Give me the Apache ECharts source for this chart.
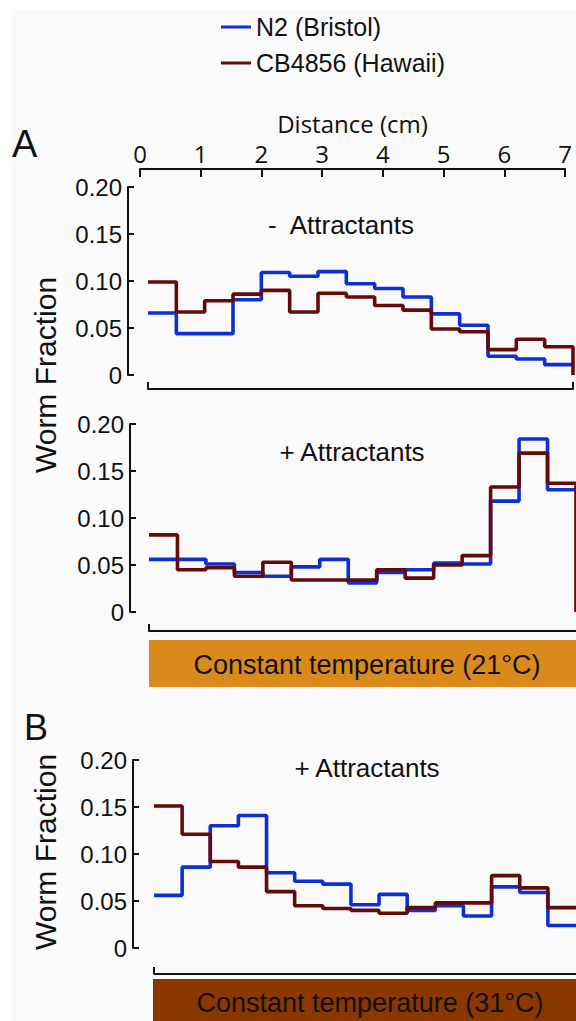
<!DOCTYPE html>
<html><head><meta charset="utf-8">
<script src="https://cdn.jsdelivr.net/npm/echarts@6/dist/echarts.min.js"></script>
<style>html,body{margin:0;padding:0;background:#fff}#c{width:576px;height:1021px}</style>
</head><body><div id="c"></div>
<script>
// ---- data ----
const seriesNames = ['N2 (Bristol)', 'CB4856 (Hawaii)'];
const distanceTicks = [0, 1, 2, 3, 4, 5, 6, 7];
const yTickValues = [0, 0.05, 0.10, 0.15, 0.20];
const binCount = 15;
// Panel A, no attractants
const n2NoAttr = [0.066, 0.044, 0.044, 0.080, 0.109, 0.105, 0.110, 0.097, 0.092, 0.083, 0.065, 0.053, 0.020, 0.017, 0.011];
const cbNoAttr = [0.099, 0.067, 0.079, 0.086, 0.090, 0.067, 0.087, 0.083, 0.074, 0.069, 0.049, 0.046, 0.027, 0.038, 0.030];
// Panel A, with attractants (21 C)
const n2Attr21 = [0.056, 0.056, 0.051, 0.042, 0.038, 0.048, 0.056, 0.031, 0.042, 0.045, 0.052, 0.051, 0.118, 0.184, 0.130];
const cbAttr21 = [0.082, 0.045, 0.047, 0.038, 0.053, 0.034, 0.034, 0.034, 0.045, 0.036, 0.050, 0.060, 0.133, 0.169, 0.137];
// Panel B, with attractants (31 C)
const n2Attr31 = [0.056, 0.086, 0.130, 0.141, 0.080, 0.071, 0.068, 0.046, 0.057, 0.040, 0.045, 0.034, 0.065, 0.059, 0.024];
const cbAttr31 = [0.151, 0.121, 0.092, 0.086, 0.060, 0.045, 0.042, 0.040, 0.037, 0.043, 0.048, 0.048, 0.077, 0.064, 0.043];
const panelTitles = ['-  Attractants', '+ Attractants', '+ Attractants'];
const conditionLabels = ['Constant temperature (21°C)', 'Constant temperature (31°C)'];

// ---- styling ----
const BLUE = '#0f2fd2', RED = '#640a0a', INK = '#111';
const SANS = '"Liberation Sans", Arial, sans-serif';
const HUM = '"Open Sans", sans-serif';

function steps(vals, dropEnd) {
  const pts = vals.map((v, i) => [i, v]);
  pts.push([vals.length, vals[vals.length - 1]]);
  if (dropEnd) pts.push([vals.length, 0]);
  return pts;
}

const panels = [
  {left: 148, width: 425, top: 187, yOff: 20, xOff: 14, n2: n2NoAttr, cb: cbNoAttr, drop: true, endTicks: [0, binCount]},
  {left: 149, width: 427, top: 424, yOff: 19, xOff: 19, n2: n2Attr21, cb: cbAttr21, drop: true, endTicks: [0]},
  {left: 154, width: 426, top: 760, yOff: 21, xOff: 26, n2: n2Attr31, cb: cbAttr31, drop: false, endTicks: [0]}
];

const grid = [{left: 140, width: 425, top: 169, height: 1}];
const xAxis = [{
  gridIndex: 0, type: 'value', position: 'top', min: 0, max: 7, interval: 1,
  axisLine: {show: true, onZero: false, lineStyle: {color: INK, width: 2}},
  axisTick: {show: true, inside: true, length: 8, lineStyle: {color: INK, width: 2}},
  axisLabel: {show: true, margin: 4, fontSize: 24, fontFamily: HUM, color: INK},
  splitLine: {show: false},
  name: 'Distance (cm)', nameLocation: 'middle', nameGap: 34,
  nameTextStyle: {fontSize: 24, fontFamily: HUM, color: INK}
}];
const yAxis = [{gridIndex: 0, type: 'value', show: false}];
const series = [];

panels.forEach((p, k) => {
  const gi = k + 1;
  grid.push({left: p.left, width: p.width, top: p.top, height: 188});
  xAxis.push({
    gridIndex: gi, type: 'value', min: 0, max: binCount, position: 'bottom', offset: p.xOff,
    axisLine: {show: true, onZero: false, lineStyle: {color: INK, width: 2}},
    axisTick: {show: true, inside: true, length: 7, customValues: p.endTicks, lineStyle: {color: INK, width: 2}},
    axisLabel: {show: false}, splitLine: {show: false}
  });
  yAxis.push({
    gridIndex: gi, type: 'value', min: 0, max: 0.2, interval: 0.05, offset: p.yOff,
    axisLine: {show: true, onZero: false, lineStyle: {color: INK, width: 2}},
    axisTick: {show: true, inside: true, length: 6, lineStyle: {color: INK, width: 2}},
    axisLabel: {margin: 6, fontSize: 24, fontFamily: SANS, color: INK,
      formatter: v => v === 0 ? '0' : v.toFixed(2)},
    splitLine: {show: false}
  });
  series.push({
    name: seriesNames[0], type: 'line', step: 'end', xAxisIndex: gi, yAxisIndex: gi,
    data: steps(p.n2, false), symbol: 'none', lineStyle: {color: BLUE, width: 3.6}, itemStyle: {color: BLUE},
    z: 3
  });
  series.push({
    name: seriesNames[1], type: 'line', step: 'end', xAxisIndex: gi, yAxisIndex: gi,
    data: steps(p.cb, p.drop), symbol: 'none', lineStyle: {color: RED, width: 3.6}, itemStyle: {color: RED},
    z: 4
  });
});

const graphic = [
  {type: 'rect', shape: {x: 12, y: 10, width: 564, height: 1011}, style: {fill: '#fafafa'}, z: -10, silent: true},
  {type: 'text', x: 12, y: 144, style: {text: 'A', fontSize: 38, fontFamily: SANS, fill: INK, textVerticalAlign: 'middle'}},
  {type: 'text', x: 24, y: 727, style: {text: 'B', fontSize: 36, fontFamily: SANS, fill: INK, textVerticalAlign: 'middle'}},
  {type: 'text', x: 45, y: 375, rotation: Math.PI / 2, style: {text: 'Worm Fraction', fontSize: 30, fontFamily: SANS, fill: INK, textAlign: 'center', textVerticalAlign: 'middle'}},
  {type: 'text', x: 45, y: 852, rotation: Math.PI / 2, style: {text: 'Worm Fraction', fontSize: 30, fontFamily: SANS, fill: INK, textAlign: 'center', textVerticalAlign: 'middle'}},
  {type: 'text', x: 341, y: 225, style: {text: panelTitles[0], fontSize: 26, fontFamily: SANS, fill: INK, textAlign: 'center', textVerticalAlign: 'middle'}},
  {type: 'text', x: 352, y: 452, style: {text: panelTitles[1], fontSize: 26, fontFamily: SANS, fill: INK, textAlign: 'center', textVerticalAlign: 'middle'}},
  {type: 'text', x: 367, y: 768, style: {text: panelTitles[2], fontSize: 26, fontFamily: SANS, fill: INK, textAlign: 'center', textVerticalAlign: 'middle'}},
  {type: 'rect', shape: {x: 149, y: 640, width: 427, height: 47}, style: {fill: '#d98a1a'}},
  {type: 'text', x: 367, y: 665, style: {text: conditionLabels[0], fontSize: 27, fontFamily: SANS, fill: INK, textAlign: 'center', textVerticalAlign: 'middle'}},
  {type: 'rect', shape: {x: 153, y: 979, width: 423, height: 42}, style: {fill: '#8a3700'}},
  {type: 'text', x: 370, y: 1003, style: {text: conditionLabels[1], fontSize: 27, fontFamily: SANS, fill: INK, textAlign: 'center', textVerticalAlign: 'middle'}}
];

const chart = echarts.init(document.getElementById('c'), null, {renderer: 'svg'});
chart.setOption({
  animation: false,
  backgroundColor: '#ffffff',
  legend: {
    data: seriesNames, orient: 'vertical', left: 216, top: 7, itemGap: 6,
    icon: 'rect', itemWidth: 30, itemHeight: 3,
    textStyle: {fontSize: 25, lineHeight: 30, fontFamily: SANS, color: INK}
  },
  grid, xAxis, yAxis, series, graphic
});
</script></body></html>
